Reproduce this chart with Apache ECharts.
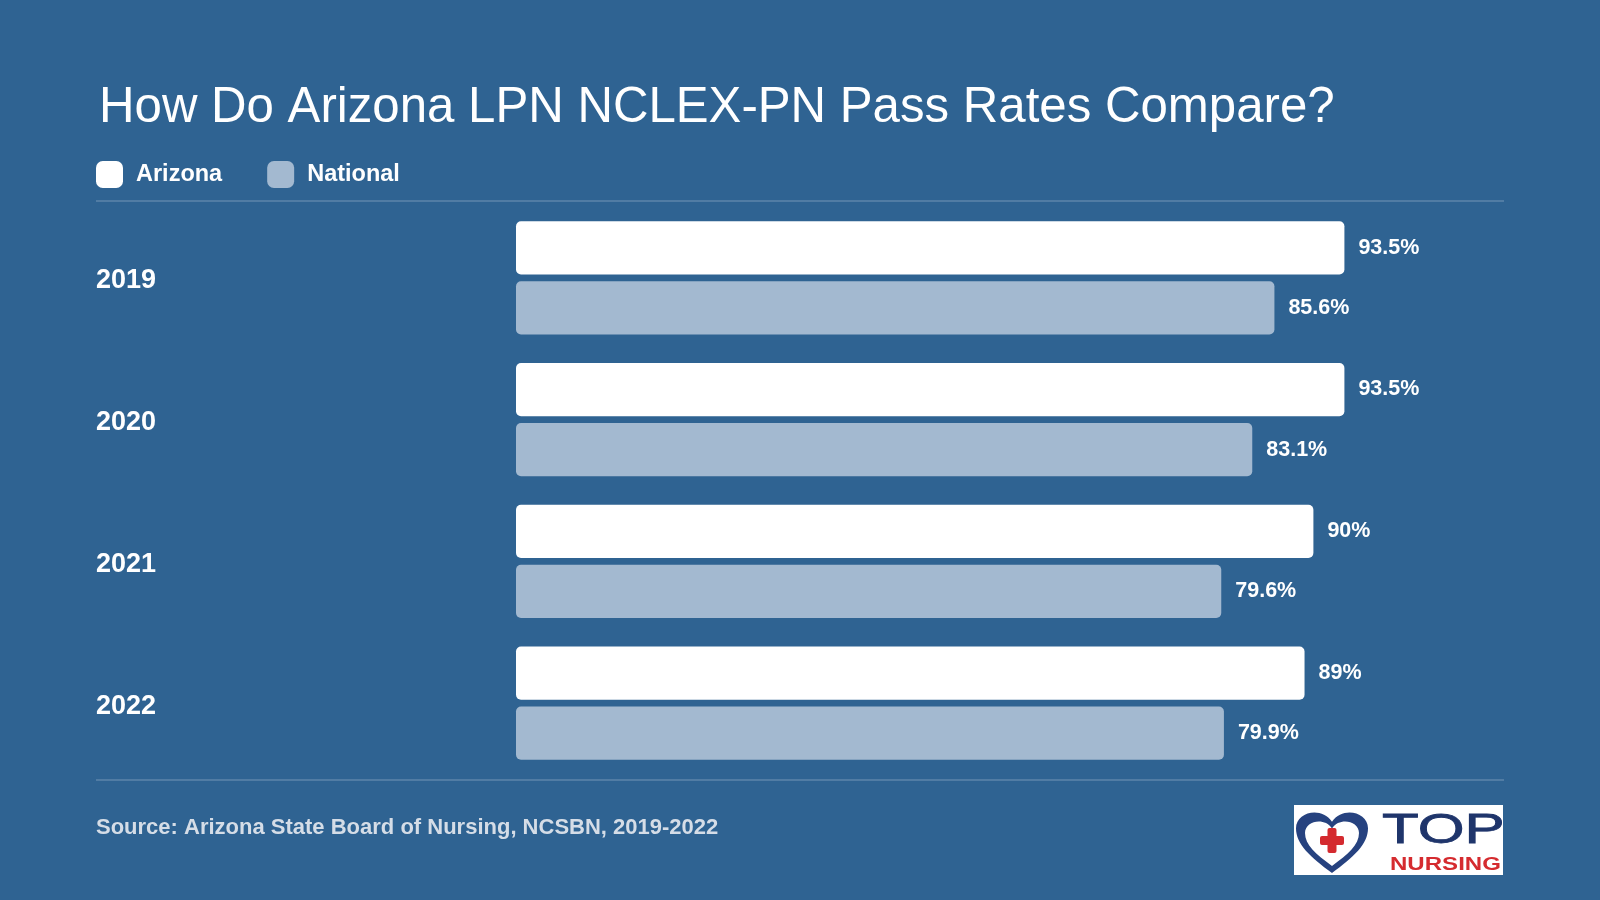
<!DOCTYPE html>
<html>
<head>
    <meta charset="utf-8" />
    <title>Arizona LPN NCLEX-PN</title>
    <script src="https://cdn.jsdelivr.net/npm/echarts@6/dist/echarts.min.js"></script>
    <style>
        html, body { margin: 0; padding: 0; background: #2f6392; }
    </style>
</head>
<body>
<div id="main" style="width: 1600px;height:900px;"></div>
<script type="text/javascript">
    // data
    var years = ['2019', '2020', '2021', '2022'];
    var arizona = [93.5, 93.5, 90, 89];
    var national = [85.6, 83.1, 79.6, 79.9];

    var myChart = echarts.init(document.getElementById('main'));
    var font = '"Liberation Sans", Arial, Helvetica, sans-serif';
    var sepColor = 'rgba(255,255,255,0.22)';

    // heart shape for the logo
    var Heart = echarts.graphic.extendShape({
        shape: { x: 0, y: 0, w: 10, h: 10 },
        buildPath: function (ctx, s) {
            var cx = s.x + s.w / 2, hw = s.w / 2, hh = s.h / 2, cy = s.y + hh;
            function X(v) { return cx + v * hw; }
            function Y(v) { return cy + v * hh; }
            ctx.moveTo(X(0), Y(1));
            ctx.bezierCurveTo(X(-0.6), Y(0.5), X(-1), Y(0.1), X(-1), Y(-0.4));
            ctx.bezierCurveTo(X(-1), Y(-0.9), X(-0.3), Y(-1.1), X(0), Y(-0.6));
            ctx.bezierCurveTo(X(0.3), Y(-1.1), X(1), Y(-0.9), X(1), Y(-0.4));
            ctx.bezierCurveTo(X(1), Y(0.1), X(0.6), Y(0.5), X(0), Y(1));
            ctx.closePath();
        }
    });
    echarts.graphic.registerShape('heart', Heart);

    var labelStyle = {
        show: true, position: 'right', distance: 14, formatter: '{c}%',
        color: '#fff', fontSize: 21.5, fontWeight: 'bold', fontFamily: font
    };

    var option = {
        backgroundColor: '#2f6392',
        title: {
            text: 'How Do Arizona LPN NCLEX-PN Pass Rates Compare?',
            left: 94,
            top: 79,
            textStyle: { color: '#fff', fontSize: 49.2, fontWeight: 'normal', fontFamily: font }
        },
        legend: {
            left: 96,
            top: 161,
            padding: 0,
            itemWidth: 27,
            itemHeight: 27,
            itemGap: 45,
            icon: 'roundRect',
            textStyle: { color: '#fff', fontSize: 23.5, fontWeight: 'bold', fontFamily: font, padding: [0, 0, 0, 8] },
            data: ['Arizona', 'National']
        },
        grid: { left: 516, right: 198, top: 207, height: 567 },
        xAxis: {
            type: 'value',
            min: 0,
            max: 100,
            show: false
        },
        yAxis: {
            type: 'category',
            inverse: true,
            data: years,
            axisLine: { show: false },
            axisTick: { show: false },
            splitLine: { show: false },
            axisLabel: {
                align: 'left',
                margin: 420,
                formatter: '{y|{value}}',
                rich: {
                    y: {
                        color: '#fff',
                        fontSize: 27,
                        fontWeight: 'bold',
                        fontFamily: font,
                        padding: [6, 0, 0, 0]
                    }
                }
            }
        },
        series: [
            {
                name: 'Arizona',
                type: 'bar',
                data: arizona,
                barGap: '13%',
                barCategoryGap: '20%',
                itemStyle: { color: '#ffffff', borderRadius: 5 },
                label: labelStyle
            },
            {
                name: 'National',
                type: 'bar',
                data: national,
                itemStyle: { color: '#a3b9d0', borderRadius: 5 },
                label: labelStyle
            }
        ],
        graphic: [
            // separator lines
            { type: 'line', shape: { x1: 96, y1: 201, x2: 1504, y2: 201 }, style: { stroke: sepColor, lineWidth: 1.5 } },
            { type: 'line', shape: { x1: 96, y1: 780, x2: 1504, y2: 780 }, style: { stroke: sepColor, lineWidth: 1.5 } },
            // source
            {
                type: 'text', x: 96, y: 817,
                style: { text: 'Source: Arizona State Board of Nursing, NCSBN, 2019-2022', fill: '#d5dde7',
                    font: 'bold 22px ' + font }
            },
            // logo
            { type: 'rect', shape: { x: 1294, y: 805, width: 209, height: 70 }, style: { fill: '#fff' } },
            { type: 'heart', shape: { x: 1296, y: 809, w: 72, h: 64 }, style: { fill: '#26427f' } },
            { type: 'heart', shape: { x: 1305, y: 819, w: 54, h: 47 }, style: { fill: '#fff' } },
            { type: 'rect', shape: { x: 1327.5, y: 828, width: 9, height: 25, r: 2 }, style: { fill: '#d42a2f' } },
            { type: 'rect', shape: { x: 1320, y: 836, width: 24, height: 9, r: 2 }, style: { fill: '#d42a2f' } },
            {
                type: 'text', x: 1382, y: 810, scaleX: 1.4,
                style: { text: 'TOP', fill: '#1f356b', font: 'normal 43px ' + font, stroke: '#1f356b', lineWidth: 0.8 }
            },
            {
                type: 'text', x: 1390, y: 855, scaleX: 1.3,
                style: { text: 'NURSING', fill: '#d52b2f', font: 'bold 18.5px ' + font }
            }
        ]
    };
    myChart.setOption(option);
</script>
</body>
</html>
